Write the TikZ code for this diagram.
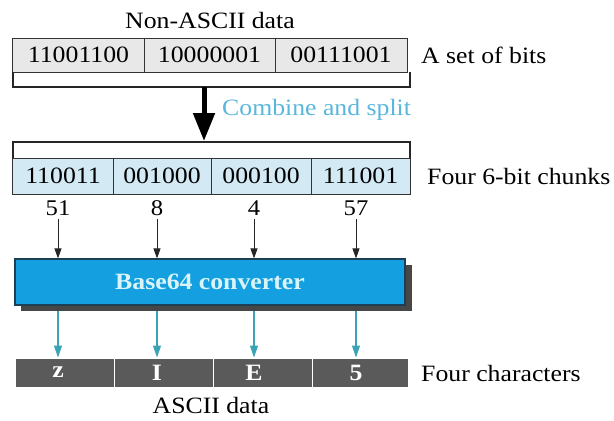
\documentclass[tikz,border=0pt]{standalone}
\usepackage{fontspec}
\setmainfont{Liberation Serif}[FakeStretch=1.1]
\usetikzlibrary{arrows.meta,calc}
\definecolor{topgray}{HTML}{E8E8E8}
\definecolor{chunkblue}{HTML}{D3E9F4}
\definecolor{convblue}{HTML}{14A0E0}
\definecolor{shadowgray}{HTML}{474747}
\definecolor{convtext}{HTML}{D8F4F8}
\definecolor{cyanarrow}{HTML}{3BA3B5}
\definecolor{combinetext}{HTML}{5BB6DC}
\definecolor{charbar}{HTML}{5A5A5A}
\definecolor{convedge}{HTML}{1B3F55}
\tikzset{
  cell/.style={rectangle, draw=black!80, line width=1bp, inner sep=0pt, anchor=center,
    font=\fontsize{23.5}{27}\selectfont},
  topcell/.style={cell, fill=topgray, minimum height=34bp},
  chunkcell/.style={cell, fill=chunkblue, minimum height=36bp},
  charcell/.style={rectangle, fill=charbar, draw=white, line width=1bp, inner sep=0pt, minimum height=29bp},
  lbl/.style={inner sep=0pt, font=\fontsize{23.5}{27}\selectfont},
  numlbl/.style={inner sep=0pt, font=\fontsize{22.5}{26}\selectfont},
  charlbl/.style={inner sep=0pt, text=white, font=\fontsize{23.5}{27}\selectfont\bfseries},
  brk/.style={draw=black!85, line width=1.4bp},
  blackarrow/.style={draw=black!85, line width=1bp, -{Triangle[length=10bp,width=7bp]}},
  cyanarr/.style={draw=cyanarrow, line width=1.2bp, -{Triangle[length=12bp,width=8bp]}},
}
\begin{document}
\begin{tikzpicture}[x=1bp,y=-1bp]
\useasboundingbox (0,0) rectangle (614,420);
% top
\node[lbl] (nonascii) at (210,20) {Non-ASCII data};
\node[topcell, minimum width=131bp] (b1) at (78.5,55) {11001100};
\node[topcell, minimum width=131bp] (b2) at (209.5,55) {10000001};
\node[topcell, minimum width=132bp] (b3) at (341,55) {00111001};
\node[lbl, anchor=west] (setbits) at (421,55) {A set of bits};
% upper bracket
\coordinate (ub1) at (13,72);
\coordinate (ub2) at (410,72);
\draw[brk] (ub1) -- ++(0,15) -- ($(ub2)+(0,15)$) -- (ub2);
% combine arrow
\coordinate (as) at (204,87);
\coordinate (ae) at (204,141);
\draw[line width=5bp, -{Triangle[length=28bp,width=21bp]}] (as) -- (ae);
\node[lbl, anchor=west, text=combinetext] (combine) at (222,110) {Combine and split};
% lower bracket
\coordinate (lb1) at (13,158);
\coordinate (lb2) at (410,158);
\draw[brk] (lb1) -- ++(0,-16) -- ($(lb2)+(0,-16)$) -- (lb2);
% chunks
\node[chunkcell, minimum width=100bp] (c1) at (63,176) {110011};
\node[chunkcell, minimum width=98bp] (c2) at (162,176) {001000};
\node[chunkcell, minimum width=100bp] (c3) at (261,176) {000100};
\node[chunkcell, minimum width=99bp] (c4) at (360.5,176) {111001};
\node[lbl, anchor=west] (chunks) at (427,176) {Four 6-bit chunks};
% numbers
\node[numlbl] (n1) at (58,208) {51};
\node[numlbl] (n2) at (157,208) {8};
\node[numlbl] (n3) at (254,208) {4};
\node[numlbl] (n4) at (356,208) {57};
% converter
\fill[shadowgray] (21,265) rectangle (412,311);
\node[rectangle, fill=convblue, draw=convedge, line width=1.2bp, minimum width=390bp, minimum height=46bp, inner sep=0pt,
  text=convtext, font=\fontsize{23.5}{27}\selectfont\bfseries] (conv) at (210,282) {Base64 converter};
\foreach \i in {1,...,4} {
  \draw[blackarrow] ([yshift=-3bp]n\i.south) -- (n\i.south |- conv.north);
}
% chars
\node[charcell, minimum width=98bp] (h1) at (65,372.5) {};
\node[charcell, minimum width=99bp] (h2) at (163.5,372.5) {};
\node[charcell, minimum width=99bp] (h3) at (262.5,372.5) {};
\node[charcell, minimum width=96bp] (h4) at (360,372.5) {};
\node[charlbl] (t1) at (58,372.5) {z};
\node[charlbl] (t2) at (157,372.5) {I};
\node[charlbl] (t3) at (254,372.5) {E};
\node[charlbl] (t4) at (356,372.5) {5};
\foreach \i in {1,...,4} {
  \draw[cyanarr] (t\i |- 0,311) -- (t\i |- h\i.north);
}
\node[lbl, anchor=west] (fourchar) at (421,373) {Four characters};
\node[lbl] (ascii) at (211,405) {ASCII data};
\end{tikzpicture}
\end{document}
